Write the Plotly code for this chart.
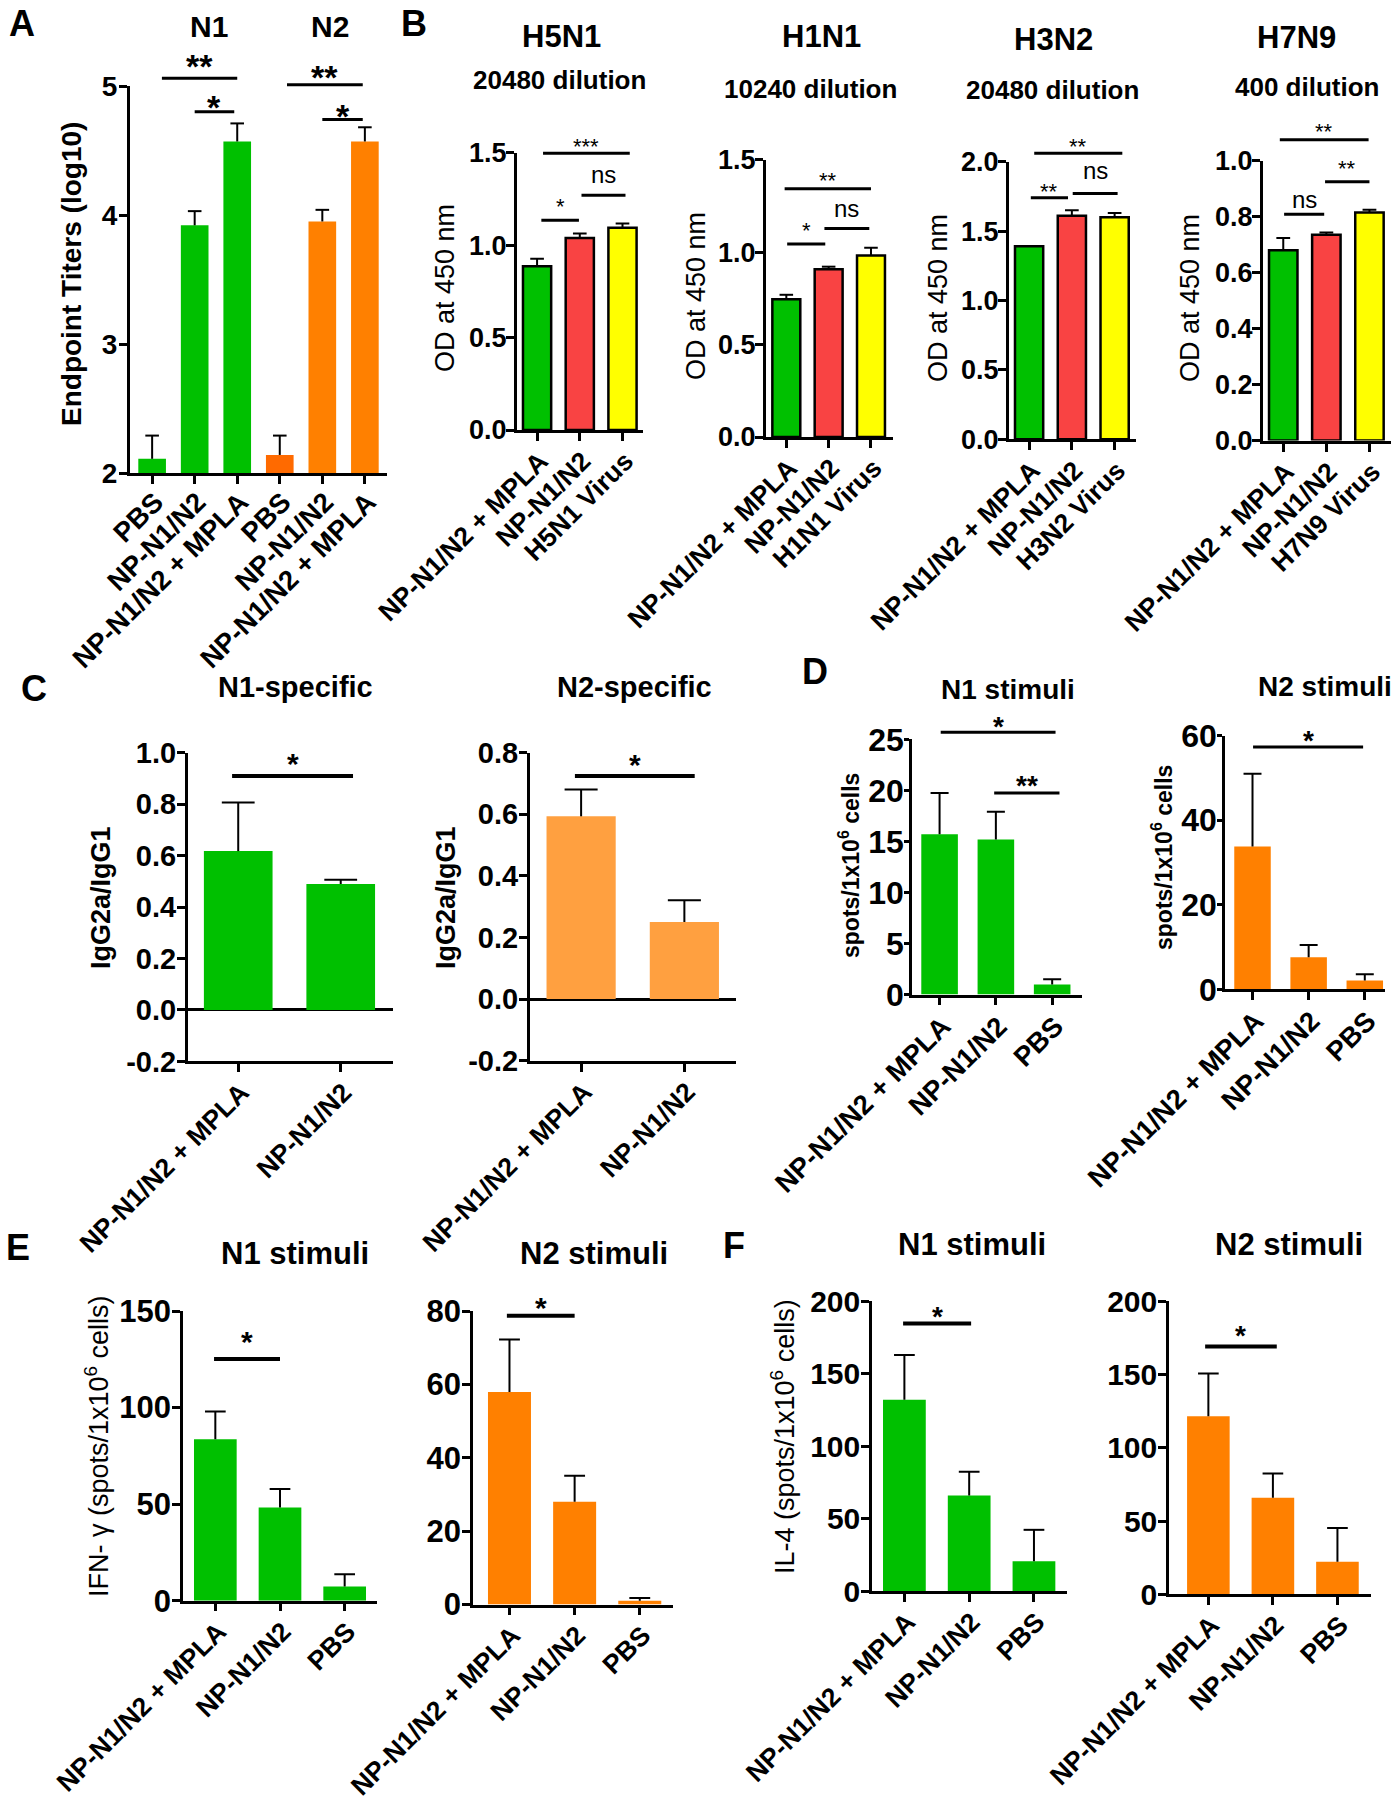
import plotly.graph_objects as go

W, H = 1400, 1800
FONT = "Liberation Sans, Arial, Helvetica, sans-serif"

GREEN = "#00C000"
ORANGE = "#FF8000"
ORANGE_RED = "#FF6A00"
LIGHT_ORANGE = "#FFA040"
RED = "#F94343"
YELLOW = "#FFFF00"

# ---------------- data ----------------
A_labels = ["PBS", "NP-N1/N2", "NP-N1/N2 + MPLA", "PBS", "NP-N1/N2", "NP-N1/N2 + MPLA"]
A_means = [2.11, 3.92, 4.57, 2.14, 3.95, 4.57]
A_sems = [0.18, 0.11, 0.14, 0.15, 0.09, 0.11]
A_yticks = [2, 3, 4, 5]
A_sig = [(0.23, 2.0, 5.06, "**"), (1.0, 1.93, 4.80, "*"), (3.17, 4.95, 5.01, "**"), (4.0, 4.95, 4.74, "*")]

H5N1_labels = ["NP-N1/N2 + MPLA", "NP-N1/N2", "H5N1 Virus"]
H5N1_means = [0.886, 1.038, 1.094]
H5N1_sems = [0.040, 0.024, 0.022]
H5N1_yticks = [0.0, 0.5, 1.0, 1.5]
H5N1_sig = [(0.14, 2.17, 1.497, "***"), (0.10, 0.98, 1.134, "*"), (1.04, 2.07, 1.27, "ns")]

H1N1_labels = ["NP-N1/N2 + MPLA", "NP-N1/N2", "H1N1 Virus"]
H1N1_means = [0.745, 0.907, 0.982]
H1N1_sems = [0.024, 0.014, 0.042]
H1N1_yticks = [0.0, 0.5, 1.0, 1.5]
H1N1_sig = [(-0.04, 2.0, 1.343, "**"), (0.02, 0.92, 1.043, "*"), (0.90, 1.96, 1.127, "ns")]

H3N2_labels = ["NP-N1/N2 + MPLA", "NP-N1/N2", "H3N2 Virus"]
H3N2_means = [1.39, 1.61, 1.60]
H3N2_sems = [0.0, 0.04, 0.03]
H3N2_yticks = [0.0, 0.5, 1.0, 1.5, 2.0]
H3N2_sig = [(0.12, 2.18, 2.06, "**"), (0.04, 0.91, 1.74, "**"), (1.02, 2.07, 1.77, "ns")]

H7N9_labels = ["NP-N1/N2 + MPLA", "NP-N1/N2", "H7N9 Virus"]
H7N9_means = [0.68, 0.735, 0.814]
H7N9_sems = [0.043, 0.008, 0.010]
H7N9_yticks = [0.0, 0.2, 0.4, 0.6, 0.8, 1.0]
H7N9_sig = [(-0.08, 1.98, 1.074, "**"), (0.97, 2.0, 0.924, "**"), (0.02, 0.95, 0.808, "ns")]

C_labels = ["NP-N1/N2 + MPLA", "NP-N1/N2"]
C1_means = [0.618, 0.49]
C1_sems = [0.189, 0.017]
C1_yticks = [-0.2, 0.0, 0.2, 0.4, 0.6, 0.8, 1.0]
C1_sig = [(-0.06, 1.12, 0.91, "*")]
C2_means = [0.593, 0.25]
C2_sems = [0.087, 0.071]
C2_yticks = [-0.2, 0.0, 0.2, 0.4, 0.6, 0.8]
C2_sig = [(-0.06, 1.10, 0.724, "*")]

DEF_labels = ["NP-N1/N2 + MPLA", "NP-N1/N2", "PBS"]
D1_means = [15.7, 15.2, 0.98]
D1_sems = [4.05, 2.7, 0.52]
D1_yticks = [0, 5, 10, 15, 20, 25]
D1_sig = [(0.02, 2.06, 25.7, "*"), (0.97, 2.13, 19.75, "**")]
D2_means = [33.8, 7.6, 2.1]
D2_sems = [17.2, 2.9, 1.45]
D2_yticks = [0, 20, 40, 60]
D2_sig = [(0.01, 1.97, 57.3, "*")]

E1_means = [83.6, 48.3, 7.3]
E1_sems = [14.4, 9.6, 6.4]
E1_yticks = [0, 50, 100, 150]
E1_sig = [(-0.02, 1.0, 125.2, "*")]
E2_means = [57.9, 28.0, 1.04]
E2_sems = [14.3, 7.1, 0.76]
E2_yticks = [0, 20, 40, 60, 80]
E2_sig = [(-0.04, 1.0, 78.7, "*")]

F1_means = [132.1, 66.0, 20.6]
F1_sems = [30.9, 16.4, 21.7]
F1_yticks = [0, 50, 100, 150, 200]
F1_sig = [(-0.02, 1.03, 184.7, "*")]
F2_means = [121.6, 65.9, 22.2]
F2_sems = [29.2, 16.5, 23.0]
F2_yticks = [0, 50, 100, 150, 200]
F2_sig = [(-0.05, 1.06, 169.2, "*")]

# ---------------- panel options (layout / style only) ----------------
def P(labels, means, sems, colors, yticks, sig, px, py, xr, fmt, gaps, **kw):
    d = dict(labels=labels, means=means, sems=sems, colors=colors, yticks=yticks, sig=sig,
             px=px, py=py, xr=xr, fmt=fmt, gaps=gaps, bw=0.66, outline=0, tickfont=26, sigw=3,
             sigfont=28, sigbold=True, zeroline=False, lw=3, standoff=-6,
             catfont=26.5, ystand=-5, yticklen=8)
    d.update(kw)
    return d

panels = [
    P(A_labels, A_means, A_sems, [GREEN] * 3 + [ORANGE_RED, ORANGE, ORANGE], A_yticks, A_sig,
      (130, 387), (86, 473), (-0.52, 5.52), "{:.0f}", [20, 12.2, 15.2, 10.9],
      bw=0.65, sigfont=34, standoff=-9, catfont=27.5, tickfont=28, ystand=-4),
    P(H5N1_labels, H5N1_means, H5N1_sems, [GREEN, RED, YELLOW], H5N1_yticks, H5N1_sig,
      (517, 643), (152.6, 430), (-0.47, 2.48), "{:.1f}", [12, 18.7, 18],
      outline=2.5, sigfont=22, sigbold=False, ystand=-6, tickfont=27),
    P(H1N1_labels, H1N1_means, H1N1_sems, [GREEN, RED, YELLOW], H1N1_yticks, H1N1_sig,
      (766, 893), (159.6, 437), (-0.48, 2.52), "{:.1f}", [13, 18.6, 18.2],
      outline=2.5, sigfont=22, sigbold=False, ystand=-6, tickfont=27),
    P(H3N2_labels, H3N2_means, H3N2_sems, [GREEN, RED, YELLOW], H3N2_yticks, H3N2_sig,
      (1009, 1136), (161.7, 439.3), (-0.47, 2.5), "{:.1f}", [12, 11.7, 21],
      outline=2.5, sigfont=22, sigbold=False, ystand=-6, tickfont=27),
    P(H7N9_labels, H7N9_means, H7N9_sems, [GREEN, RED, YELLOW], H7N9_yticks, H7N9_sig,
      (1263, 1391), (160.5, 440.6), (-0.47, 2.5), "{:.1f}", [13, 18.6, 13],
      outline=2.5, sigfont=22, sigbold=False, ystand=-6, tickfont=27),
    P(C_labels, C1_means, C1_sems, [GREEN, GREEN], C1_yticks, C1_sig,
      (188, 393), (752.9, 1061.4), (-0.49, 1.51), "{:.1f}", [19],
      bw=0.67, zeroline=True, sigw=4, sigfont=30, tickfont=29, ystand=-5),
    P(C_labels, C2_means, C2_sems, [LIGHT_ORANGE, LIGHT_ORANGE], C2_yticks, C2_sig,
      (530, 736), (752.5, 1060.7), (-0.495, 1.5), "{:.1f}", [18.7],
      bw=0.67, zeroline=True, sigw=4, sigfont=30, tickfont=29, ystand=-5),
    P(DEF_labels, D1_means, D1_sems, [GREEN] * 3, D1_yticks, D1_sig,
      (912, 1082), (739.3, 994.6), (-0.49, 2.53), "{:.0f}", [12.5, 14.3],
      bw=0.65, tickfont=32, lw=2.5, catfont=27.5, ystand=-6, yticklen=5),
    P(DEF_labels, D2_means, D2_sems, [ORANGE] * 3, D2_yticks, D2_sig,
      (1225, 1385), (735.7, 989.3), (-0.49, 2.36), "{:.0f}", [13],
      bw=0.65, tickfont=32, lw=2.5, catfont=27.5, ystand=-6, yticklen=5),
    P(DEF_labels, E1_means, E1_sems, [GREEN] * 3, E1_yticks, E1_sig,
      (183, 377), (1311, 1600.7), (-0.5, 2.5), "{:.0f}", [24.8],
      sigw=4, sigfont=30, tickfont=31, lw=2.5, ystand=-5),
    P(DEF_labels, E2_means, E2_sems, [ORANGE] * 3, E2_yticks, E2_sig,
      (473, 673), (1311, 1604.5), (-0.56, 2.51), "{:.0f}", [15.3],
      sigw=4, sigfont=30, tickfont=31, lw=2.5, ystand=-5),
    P(DEF_labels, F1_means, F1_sems, [GREEN] * 3, F1_yticks, F1_sig,
      (872, 1067), (1301.4, 1591.1), (-0.5, 2.51), "{:.0f}", [13.4],
      sigw=4, tickfont=30, lw=2.5, ystand=-5),
    P(DEF_labels, F2_means, F2_sems, [ORANGE] * 3, F2_yticks, F2_sig,
      (1169, 1371), (1301.4, 1594.2), (-0.61, 2.52), "{:.0f}", [17.2],
      sigw=4, tickfont=30, lw=2.5, ystand=-5),
]

NP = len(panels)
fig = go.Figure()
layout = dict(template="none", width=W, height=H,
              margin=dict(l=0, r=0, t=0, b=0, pad=0, autoexpand=False),
              paper_bgcolor="white", plot_bgcolor="rgba(0,0,0,0)", showlegend=False,
              font=dict(family=FONT, color="black"), barmode="overlay")
annotations = []
CAP = 0.16
EXT = 120  # px of headroom for significance marks above each panel

for i, p in enumerate(panels, start=1):
    xa, ya, yk = f"x{i}", f"y{i}", f"y{NP + i}"
    n = len(p["means"])
    xs = list(range(n))
    y0, y1 = p["yticks"][0], p["yticks"][-1]
    top, bot = p["py"]
    ppu = (bot - top) / (y1 - y0)
    ext = min(EXT, top - 2)

    fig.add_trace(go.Bar(
        x=xs, y=p["means"], width=p["bw"], xaxis=xa, yaxis=ya,
        marker=dict(color=p["colors"], line=dict(color="black", width=p["outline"])),
        hoverinfo="skip"))
    # error bars (upper only, Prism style)
    ex, ey = [], []
    for j, (m, s) in enumerate(zip(p["means"], p["sems"])):
        if s <= 0:
            continue
        ex += [j, j, None, j - CAP, j + CAP, None]
        ey += [m, m + s, None, m + s, m + s, None]
    if ex:
        fig.add_trace(go.Scatter(x=ex, y=ey, mode="lines", xaxis=xa, yaxis=ya,
                                 line=dict(color="black", width=2), cliponaxis=False,
                                 hoverinfo="skip"))
    # significance brackets on a hidden axis with the same scale but extra headroom
    sx, sy = [], []
    for (x0, x1, yv, lab), gap in zip(p["sig"], p["gaps"]):
        sx += [x0, x1, None]
        sy += [yv, yv, None]
        is_ns = lab == "ns"
        fs = 24 if is_ns else p["sigfont"]
        shift = gap + 0.09 * fs if is_ns else gap - 0.23 * fs
        annotations.append(dict(
            x=(x0 + x1) / 2, y=yv, xref=xa, yref=yk, text=lab, showarrow=False,
            xanchor="center", yanchor="middle", yshift=shift,
            font=dict(family=FONT, size=fs, color="black",
                      weight=("normal" if (is_ns or not p["sigbold"]) else "bold"))))
    fig.add_trace(go.Scatter(x=sx, y=sy, mode="lines", xaxis=xa, yaxis=yk,
                             line=dict(color="black", width=p["sigw"]), cliponaxis=False,
                             hoverinfo="skip"))

    key = "" if i == 1 else str(i)
    layout["xaxis" + key] = dict(
        domain=[p["px"][0] / W, p["px"][1] / W], anchor=ya, range=list(p["xr"]),
        automargin=False,
        tickmode="array", tickvals=xs, ticktext=p["labels"], tickangle=-45,
        ticklabelstandoff=p["standoff"], ticklabelshift=3,
        ticks="outside", ticklen=8, tickwidth=2.5, tickcolor="black",
        showline=True, linewidth=p["lw"], linecolor="black", showgrid=False, zeroline=False,
        tickfont=dict(family=FONT, size=p["catfont"], color="black", weight="bold"), fixedrange=True)
    layout["yaxis" + key] = dict(
        domain=[1 - bot / H, 1 - top / H], anchor=xa,
        range=[y0, y1], automargin=False,
        tickmode="array", tickvals=p["yticks"], ticktext=[p["fmt"].format(v) for v in p["yticks"]],
        ticks="outside", ticklen=p["yticklen"], tickwidth=2.5, tickcolor="black",
        ticklabelstandoff=p["ystand"],
        showline=True, linewidth=p["lw"], linecolor="black", showgrid=False,
        zeroline=p["zeroline"], zerolinecolor="black", zerolinewidth=3,
        tickfont=dict(family=FONT, size=p["tickfont"], color="black", weight="bold"), fixedrange=True)
    layout["yaxis" + str(NP + i)] = dict(
        domain=[1 - bot / H, 1 - (top - ext) / H], anchor=xa,
        range=[y0, y1 + ext / ppu], visible=False, automargin=False, fixedrange=True)


def txt(x, y, s, size, bold=True, angle=0):
    annotations.append(dict(
        x=x / W, y=1 - y / H, xref="paper", yref="paper", text=s, showarrow=False,
        xanchor="center", yanchor="middle", textangle=angle,
        font=dict(family=FONT, size=size, color="black", weight=("bold" if bold else "normal"))))

# panel letters
for lx, ly, L in [(22, 23, "A"), (414, 23, "B"), (34, 688, "C"), (815, 671, "D"), (18, 1247, "E"), (734, 1245, "F")]:
    txt(lx, ly, L, 36)

# titles
txt(209, 26, "N1", 30)
txt(330, 26, "N2", 30)
txt(561, 37, "H5N1", 31)
txt(559, 80, "20480 dilution", 26)
txt(821, 37, "H1N1", 31)
txt(810, 89, "10240 dilution", 26)
txt(1053, 39, "H3N2", 31)
txt(1052, 90, "20480 dilution", 26)
txt(1296, 38, "H7N9", 31)
txt(1307, 87, "400 dilution", 26)
txt(295, 687, "N1-specific", 29)
txt(634, 687, "N2-specific", 29)
txt(1008, 689, "N1 stimuli", 28)
txt(1325, 686, "N2 stimuli", 28)
txt(295, 1253, "N1 stimuli", 31)
txt(594, 1253, "N2 stimuli", 31)
txt(972, 1244, "N1 stimuli", 31)
txt(1289, 1244, "N2 stimuli", 31)

# y-axis titles
txt(71, 274, "Endpoint Titers (log10)", 28, True, -90)
txt(445, 288, "OD at 450 nm", 27, False, -90)
txt(696, 296, "OD at 450 nm", 27, False, -90)
txt(938, 298, "OD at 450 nm", 27, False, -90)
txt(1190, 298, "OD at 450 nm", 27, False, -90)
txt(101, 898, "IgG2a/IgG1", 27, True, -90)
txt(446, 898, "IgG2a/IgG1", 27, True, -90)
txt(849, 866, "spots/1x10<sup>6</sup> cells", 23, True, -90)
txt(1162, 858, "spots/1x10<sup>6</sup> cells", 23, True, -90)
txt(97, 1446, "IFN- γ (spots/1x10<sup>6</sup> cells)", 27, False, -90)
txt(783, 1437, "IL-4 (spots/1x10<sup>6</sup> cells)", 27, False, -90)

layout["annotations"] = annotations
fig.update_layout(**layout)
fig.write_html("out.html", config={"displayModeBar": False},
               post_script="document.body.style.margin='0px';")
